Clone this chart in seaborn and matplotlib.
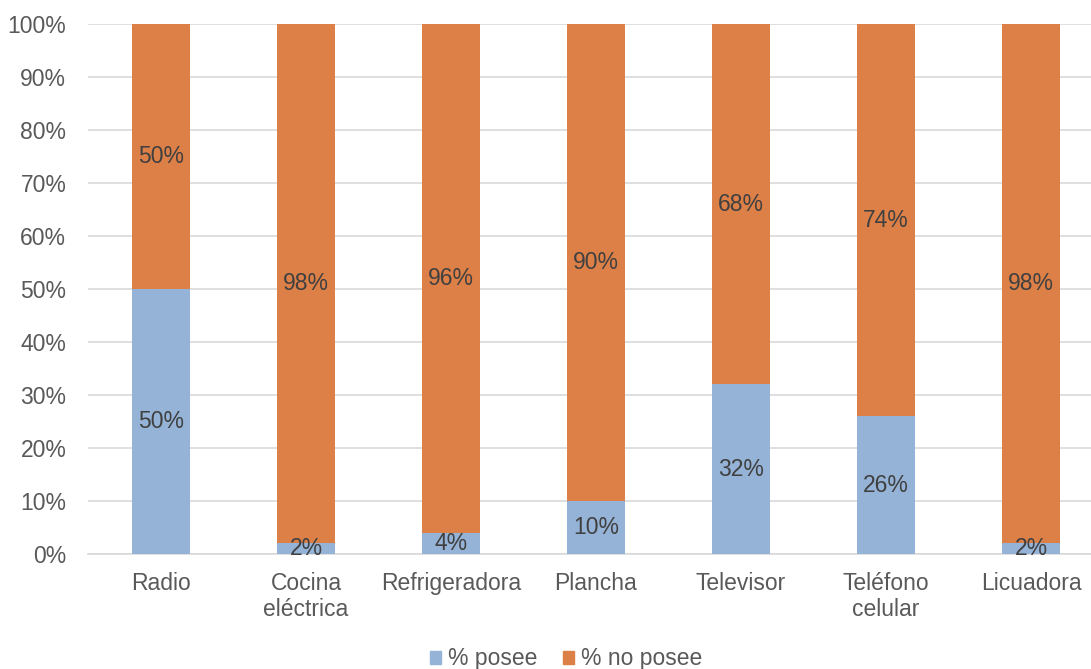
import pandas as pd
import seaborn as sns
import matplotlib.pyplot as plt
from matplotlib.patches import Patch
from matplotlib.ticker import PercentFormatter

categorias = ['Radio', 'Cocina\neléctrica', 'Refrigeradora', 'Plancha',
              'Televisor', 'Teléfono\ncelular', 'Licuadora']
posee = [50, 2, 4, 10, 32, 26, 2]
no_posee = [50, 98, 96, 90, 68, 74, 98]

azul = '#95B3D7'
naranja = '#DD8047'

sns.set_theme(style='white')
plt.rcParams['font.family'] = ['Liberation Sans', 'DejaVu Sans']

df = pd.DataFrame({'categoria': categorias, 'posee': posee, 'no_posee': no_posee})
df['total'] = df['posee'] + df['no_posee']

fig = plt.figure(figsize=(10.91, 6.69), dpi=100)
ax = fig.add_axes([0.0811, 0.1719, 0.9303, 0.7922])

sns.barplot(data=df, x='categoria', y='total', color=naranja, width=0.4,
            saturation=1, linewidth=0, ax=ax, zorder=2)
sns.barplot(data=df, x='categoria', y='posee', color=azul, width=0.4,
            saturation=1, linewidth=0, ax=ax, zorder=3)

fs = 16.5
for i, (p, n) in enumerate(zip(posee, no_posee)):
    ax.text(i, p / 2, f'{p}%', ha='center', va='center', fontsize=fs,
            color='#404040', zorder=4)
    ax.text(i, p + n / 2, f'{n}%', ha='center', va='center', fontsize=fs,
            color='#404040', zorder=4)

ax.set_ylim(0, 100)
ax.set_xlim(-0.5, len(categorias) - 0.5)
ax.set_yticks(range(0, 101, 10))
ax.yaxis.set_major_formatter(PercentFormatter(decimals=0))
ax.grid(axis='y', color='#D9D9D9', linewidth=1.2, zorder=0)
ax.set_axisbelow(True)
for s in ['top', 'right', 'left']:
    ax.spines[s].set_visible(False)
ax.spines['bottom'].set_color('#D9D9D9')
ax.spines['bottom'].set_linewidth(1.2)
ax.tick_params(axis='both', length=0, labelsize=fs, labelcolor='#595959')
ax.tick_params(axis='y', pad=16)
ax.tick_params(axis='x', pad=13)
for t in ax.get_xticklabels():
    t.set_linespacing(1.15)
ax.set_xlabel('')
ax.set_ylabel('')

handles = [Patch(color=azul, label='% posee'), Patch(color=naranja, label='% no posee')]
fig.legend(handles=handles, loc='center', bbox_to_anchor=(0.519, 0.015), ncol=2,
           frameon=False, fontsize=fs, labelcolor='#595959',
           handlelength=0.5, handleheight=0.5, handletextpad=0.3, columnspacing=1.1)

fig.savefig('out.png', dpi=100)
plt.close()
